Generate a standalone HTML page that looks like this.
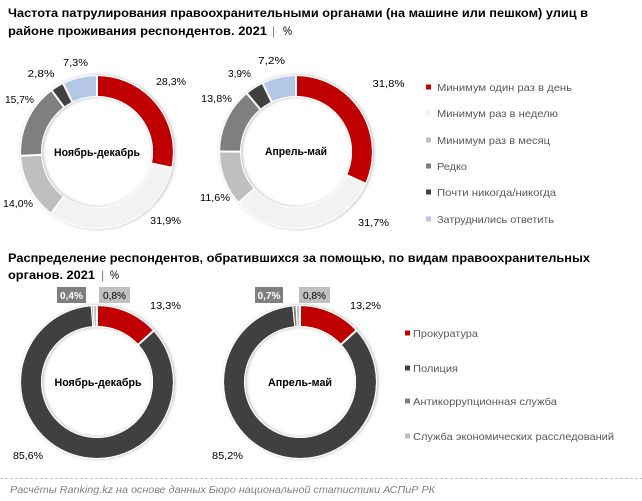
<!DOCTYPE html>
<html><head><meta charset="utf-8"><style>
html,body{margin:0;padding:0;background:#fff;}
svg{display:block;}
text{font-family:"Liberation Sans","Noto Sans CJK SC",sans-serif;}
.t{font-weight:bold;font-size:11.5px;fill:#000;}
.lb{font-size:10.5px;fill:#000;}
.cl{font-size:11px;font-weight:bold;fill:#000;}
.lg{font-size:10.5px;fill:#595959;}
.sep{stroke:#fff;stroke-width:2;}
circle.s{fill:none;stroke-width:20;}
</style></head><body>
<svg width="642" height="501" viewBox="0 0 642 501" xmlns="http://www.w3.org/2000/svg">
<defs>
<filter id="sh" x="-20%" y="-20%" width="140%" height="140%">
<feDropShadow dx="0" dy="1" stdDeviation="1.6" flood-color="#000" flood-opacity="0.3"/>
</filter>
</defs>
<rect width="642" height="501" fill="#fff"/>

<!-- Title 1 -->
<text class="t" x="8" y="17" textLength="580" lengthAdjust="spacingAndGlyphs">Частота патрулирования правоохранительными органами (на машине или пешком) улиц в</text>
<text class="t" x="8" y="35" textLength="259" lengthAdjust="spacingAndGlyphs">районе проживания респондентов. 2021</text>
<text x="272" y="35" font-size="12" fill="#808080">|</text>
<text x="283" y="35" font-size="11.5" fill="#000" textLength="9" lengthAdjust="spacingAndGlyphs">%</text>

<!-- Donut top-1 -->
<g transform="translate(97,152) rotate(-90)" filter="url(#sh)">
<circle class="s" r="66" pathLength="360" stroke="#c00000" stroke-dasharray="101.88 360" stroke-dashoffset="0"/>
<circle class="s" r="66" pathLength="360" stroke="#f2f2f2" stroke-dasharray="114.84 360" stroke-dashoffset="-101.88"/>
<circle class="s" r="66" pathLength="360" stroke="#bfbfbf" stroke-dasharray="50.4 360" stroke-dashoffset="-216.72"/>
<circle class="s" r="66" pathLength="360" stroke="#7f7f7f" stroke-dasharray="56.52 360" stroke-dashoffset="-267.12"/>
<circle class="s" r="66" pathLength="360" stroke="#404040" stroke-dasharray="10.08 360" stroke-dashoffset="-323.64"/>
<circle class="s" r="66" pathLength="360" stroke="#b4c7e7" stroke-dasharray="26.28 360" stroke-dashoffset="-333.72"/>
<line class="sep" x1="55" y1="0" x2="77" y2="0"/>
<line class="sep" x1="55" y1="0" x2="77" y2="0" transform="rotate(101.88)"/>
<line class="sep" x1="55" y1="0" x2="77" y2="0" transform="rotate(216.72)"/>
<line class="sep" x1="55" y1="0" x2="77" y2="0" transform="rotate(267.12)"/>
<line class="sep" x1="55" y1="0" x2="77" y2="0" transform="rotate(323.64)"/>
<line class="sep" x1="55" y1="0" x2="77" y2="0" transform="rotate(333.72)"/>
<circle r="76.5" fill="none" stroke="#fff" stroke-width="1"/>
<circle r="55.5" fill="none" stroke="#fff" stroke-width="1"/>
</g>
<text class="cl" x="97" y="156" text-anchor="middle" textLength="86" lengthAdjust="spacingAndGlyphs">Ноябрь-декабрь</text>
<text class="lb" x="171" y="85" text-anchor="middle" textLength="30" lengthAdjust="spacingAndGlyphs">28,3%</text>
<text class="lb" x="165.5" y="224" text-anchor="middle" textLength="31" lengthAdjust="spacingAndGlyphs">31,9%</text>
<text class="lb" x="18" y="207" text-anchor="middle" textLength="30" lengthAdjust="spacingAndGlyphs">14,0%</text>
<text class="lb" x="19.5" y="103" text-anchor="middle" textLength="29" lengthAdjust="spacingAndGlyphs">15,7%</text>
<text class="lb" x="41" y="77" text-anchor="middle" textLength="27" lengthAdjust="spacingAndGlyphs">2,8%</text>
<text class="lb" x="75.5" y="66" text-anchor="middle" textLength="25" lengthAdjust="spacingAndGlyphs">7,3%</text>

<!-- Donut top-2 -->
<g transform="translate(296,152) rotate(-90)" filter="url(#sh)">
<circle class="s" r="66" pathLength="360" stroke="#c00000" stroke-dasharray="114.48 360" stroke-dashoffset="0"/>
<circle class="s" r="66" pathLength="360" stroke="#f2f2f2" stroke-dasharray="114.12 360" stroke-dashoffset="-114.48"/>
<circle class="s" r="66" pathLength="360" stroke="#bfbfbf" stroke-dasharray="41.76 360" stroke-dashoffset="-228.6"/>
<circle class="s" r="66" pathLength="360" stroke="#7f7f7f" stroke-dasharray="49.68 360" stroke-dashoffset="-270.36"/>
<circle class="s" r="66" pathLength="360" stroke="#404040" stroke-dasharray="14.04 360" stroke-dashoffset="-320.04"/>
<circle class="s" r="66" pathLength="360" stroke="#b4c7e7" stroke-dasharray="25.92 360" stroke-dashoffset="-334.08"/>
<line class="sep" x1="55" y1="0" x2="77" y2="0"/>
<line class="sep" x1="55" y1="0" x2="77" y2="0" transform="rotate(114.48)"/>
<line class="sep" x1="55" y1="0" x2="77" y2="0" transform="rotate(228.6)"/>
<line class="sep" x1="55" y1="0" x2="77" y2="0" transform="rotate(270.36)"/>
<line class="sep" x1="55" y1="0" x2="77" y2="0" transform="rotate(320.04)"/>
<line class="sep" x1="55" y1="0" x2="77" y2="0" transform="rotate(334.08)"/>
<circle r="76.5" fill="none" stroke="#fff" stroke-width="1"/>
<circle r="55.5" fill="none" stroke="#fff" stroke-width="1"/>
</g>
<text class="cl" x="296" y="155" text-anchor="middle" textLength="62" lengthAdjust="spacingAndGlyphs">Апрель-май</text>
<text class="lb" x="388.5" y="87" text-anchor="middle" textLength="32" lengthAdjust="spacingAndGlyphs">31,8%</text>
<text class="lb" x="373.5" y="226" text-anchor="middle" textLength="31" lengthAdjust="spacingAndGlyphs">31,7%</text>
<text class="lb" x="215" y="201" text-anchor="middle" textLength="30" lengthAdjust="spacingAndGlyphs">11,6%</text>
<text class="lb" x="216.5" y="102" text-anchor="middle" textLength="31" lengthAdjust="spacingAndGlyphs">13,8%</text>
<text class="lb" x="239.5" y="77" text-anchor="middle" textLength="23" lengthAdjust="spacingAndGlyphs">3,9%</text>
<text class="lb" x="271.5" y="64" text-anchor="middle" textLength="27" lengthAdjust="spacingAndGlyphs">7,2%</text>

<!-- Legend top -->
<rect x="426" y="84.5" width="5" height="5" fill="#c00000"/>
<text class="lg" x="437" y="91" textLength="135" lengthAdjust="spacingAndGlyphs">Минимум один раз в день</text>
<rect x="426" y="110.5" width="5" height="5" fill="#f2f2f2"/>
<text class="lg" x="437" y="117" textLength="121" lengthAdjust="spacingAndGlyphs">Минимум раз в неделю</text>
<rect x="426" y="137.5" width="5" height="5" fill="#bfbfbf"/>
<text class="lg" x="437" y="144" textLength="113" lengthAdjust="spacingAndGlyphs">Минимум раз в месяц</text>
<rect x="426" y="163.5" width="5" height="5" fill="#7f7f7f"/>
<text class="lg" x="437" y="170" textLength="30" lengthAdjust="spacingAndGlyphs">Редко</text>
<rect x="426" y="189.5" width="5" height="5" fill="#404040"/>
<text class="lg" x="437" y="196" textLength="119" lengthAdjust="spacingAndGlyphs">Почти никогда/никогда</text>
<rect x="426" y="216.5" width="5" height="5" fill="#b4c7e7"/>
<text class="lg" x="437" y="223" textLength="117" lengthAdjust="spacingAndGlyphs">Затруднились ответить</text>

<!-- Title 2 -->
<text class="t" x="8" y="262" textLength="582" lengthAdjust="spacingAndGlyphs">Распределение респондентов, обратившихся за помощью, по видам правоохранительных</text>
<text class="t" x="8" y="279" textLength="87" lengthAdjust="spacingAndGlyphs">органов. 2021</text>
<text x="101" y="279" font-size="12" fill="#808080">|</text>
<text x="110" y="279" font-size="11.5" fill="#000" textLength="9" lengthAdjust="spacingAndGlyphs">%</text>

<!-- Donut bottom-1 -->
<g transform="translate(97,382) rotate(-90)" filter="url(#sh)">
<circle class="s" r="66" pathLength="360" stroke="#c00000" stroke-dasharray="47.83 360" stroke-dashoffset="0"/>
<circle class="s" r="66" pathLength="360" stroke="#404040" stroke-dasharray="307.86 360" stroke-dashoffset="-47.83"/>
<circle class="s" r="66" pathLength="360" stroke="#7f7f7f" stroke-dasharray="1.44 360" stroke-dashoffset="-355.69"/>
<circle class="s" r="66" pathLength="360" stroke="#bfbfbf" stroke-dasharray="2.88 360" stroke-dashoffset="-357.12"/>
<line class="sep" x1="55" y1="0" x2="77" y2="0"/>
<line class="sep" x1="55" y1="0" x2="77" y2="0" transform="rotate(47.83)"/>
<line class="sep" x1="55" y1="0" x2="77" y2="0" transform="rotate(355.69)" style="stroke-width:1.2"/>
<line class="sep" x1="55" y1="0" x2="77" y2="0" transform="rotate(357.12)" style="stroke-width:1.2"/>
<circle r="76.5" fill="none" stroke="#fff" stroke-width="1"/>
<circle r="55.5" fill="none" stroke="#fff" stroke-width="1"/>
</g>
<text class="cl" x="98" y="386" text-anchor="middle" textLength="87" lengthAdjust="spacingAndGlyphs">Ноябрь-декабрь</text>
<rect x="57" y="287" width="29" height="16" fill="#7f7f7f"/>
<text x="71.5" y="299" font-size="10.5" font-weight="bold" fill="#fff" text-anchor="middle" textLength="23" lengthAdjust="spacingAndGlyphs">0,4%</text>
<rect x="99" y="287" width="31" height="16" fill="#bfbfbf"/>
<text x="114.5" y="299" font-size="10.5" fill="#000" text-anchor="middle" textLength="23" lengthAdjust="spacingAndGlyphs">0,8%</text>
<text class="lb" x="165.5" y="309" text-anchor="middle" textLength="31" lengthAdjust="spacingAndGlyphs">13,3%</text>
<text class="lb" x="28" y="459" text-anchor="middle" textLength="30" lengthAdjust="spacingAndGlyphs">85,6%</text>

<!-- Donut bottom-2 -->
<g transform="translate(300,382) rotate(-90)" filter="url(#sh)">
<circle class="s" r="66" pathLength="360" stroke="#c00000" stroke-dasharray="47.57 360" stroke-dashoffset="0"/>
<circle class="s" r="66" pathLength="360" stroke="#404040" stroke-dasharray="307.03 360" stroke-dashoffset="-47.57"/>
<circle class="s" r="66" pathLength="360" stroke="#7f7f7f" stroke-dasharray="2.52 360" stroke-dashoffset="-354.6"/>
<circle class="s" r="66" pathLength="360" stroke="#bfbfbf" stroke-dasharray="2.88 360" stroke-dashoffset="-357.12"/>
<line class="sep" x1="55" y1="0" x2="77" y2="0"/>
<line class="sep" x1="55" y1="0" x2="77" y2="0" transform="rotate(47.57)"/>
<line class="sep" x1="55" y1="0" x2="77" y2="0" transform="rotate(354.6)" style="stroke-width:1.2"/>
<line class="sep" x1="55" y1="0" x2="77" y2="0" transform="rotate(357.12)" style="stroke-width:1.2"/>
<circle r="76.5" fill="none" stroke="#fff" stroke-width="1"/>
<circle r="55.5" fill="none" stroke="#fff" stroke-width="1"/>
</g>
<text class="cl" x="300" y="386" text-anchor="middle" textLength="64" lengthAdjust="spacingAndGlyphs">Апрель-май</text>
<rect x="255" y="287" width="28" height="16" fill="#7f7f7f"/>
<text x="269" y="299" font-size="10.5" font-weight="bold" fill="#fff" text-anchor="middle" textLength="23" lengthAdjust="spacingAndGlyphs">0,7%</text>
<rect x="299" y="287" width="31" height="16" fill="#bfbfbf"/>
<text x="314.5" y="299" font-size="10.5" fill="#000" text-anchor="middle" textLength="23" lengthAdjust="spacingAndGlyphs">0,8%</text>
<text class="lb" x="365.5" y="309" text-anchor="middle" textLength="31" lengthAdjust="spacingAndGlyphs">13,2%</text>
<text class="lb" x="227.5" y="459" text-anchor="middle" textLength="31" lengthAdjust="spacingAndGlyphs">85,2%</text>

<!-- Legend bottom -->
<rect x="405" y="330.5" width="5" height="5" fill="#c00000"/>
<text class="lg" x="413" y="337" textLength="65" lengthAdjust="spacingAndGlyphs">Прокуратура</text>
<rect x="405" y="365.5" width="5" height="5" fill="#404040"/>
<text class="lg" x="413" y="372" textLength="45" lengthAdjust="spacingAndGlyphs">Полиция</text>
<rect x="405" y="398.5" width="5" height="5" fill="#7f7f7f"/>
<text class="lg" x="413" y="405" textLength="144" lengthAdjust="spacingAndGlyphs">Антикоррупционная служба</text>
<rect x="405" y="433.5" width="5" height="5" fill="#bfbfbf"/>
<text class="lg" x="413" y="440" textLength="201" lengthAdjust="spacingAndGlyphs">Служба экономических расследований</text>

<!-- Footer -->
<line x1="0" y1="478.5" x2="642" y2="478.5" stroke="#bfbfbf" stroke-width="1" stroke-dasharray="3 2"/>
<text x="10" y="493" font-size="10.5" font-style="italic" fill="#7f7f7f" textLength="425" lengthAdjust="spacingAndGlyphs">Расчёты Ranking.kz на основе данных Бюро национальной статистики АСПиР РК</text>
</svg>
</body></html>
